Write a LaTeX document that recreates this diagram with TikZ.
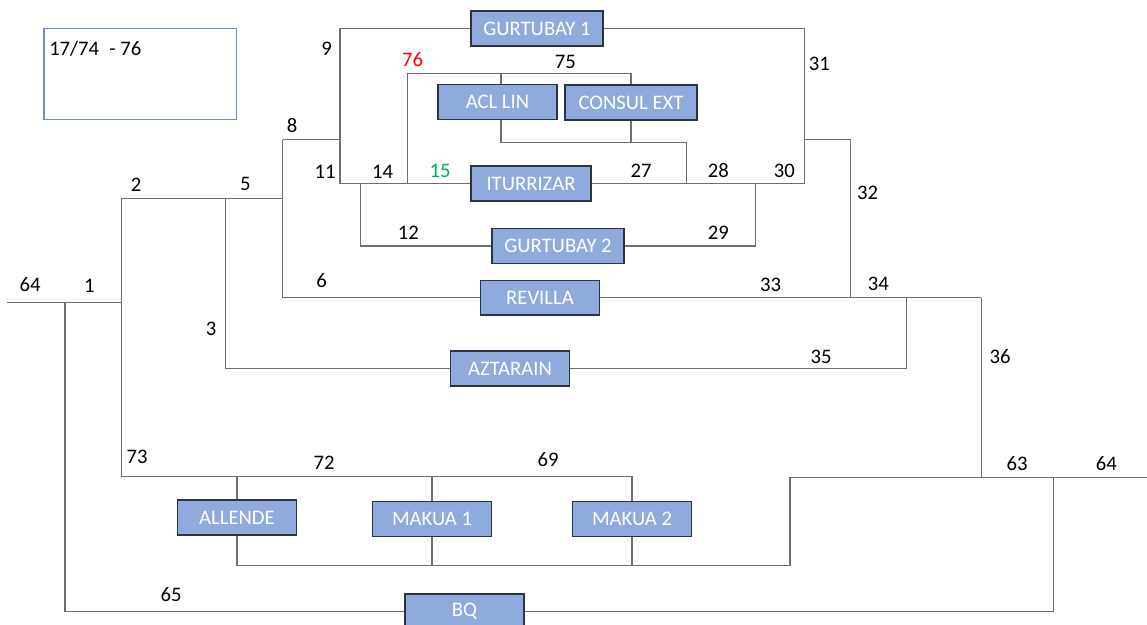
\documentclass[tikz,border=0pt]{standalone}
\usepackage{fontspec}
\setmainfont{Carlito}
\definecolor{boxfill}{HTML}{8FAADC}
\definecolor{boxedge}{HTML}{2B3340}
\definecolor{wiregray}{HTML}{6E6E6E}
\definecolor{legendblue}{HTML}{6F8DBF}
\definecolor{numred}{HTML}{FF0000}
\definecolor{numgreen}{HTML}{00B050}
\begin{document}
\begin{tikzpicture}[x=0.75pt,y=-0.75pt,
  unitbox/.style={draw=boxedge, fill=boxfill, line width=1.1pt, text=white,
    inner sep=0pt, minimum height=26pt, font=\fontsize{15.5}{18}\selectfont},
  wide/.style={minimum width=99pt},
  narrow/.style={minimum width=89pt},
  num/.style={inner sep=0pt, font=\fontsize{15.5}{18}\selectfont},
  wire/.style={draw=wiregray, line width=0.8pt}]
\clip (0,0) rectangle (1147,625);

% legend
\node[draw=legendblue, line width=0.8pt, fill=white, minimum width=144.5pt,
  minimum height=67.7pt, inner sep=0pt] (legend) at (140.3,73.9) {};
\node[num, anchor=base west] (legendtext) at (49,55) {17/74\hspace{0.5em}- 76};

% units
\node[unitbox, wide]   (g1)   at (537,28.5)  {GURTUBAY 1};
\node[unitbox, narrow] (acl)  at (497.5,102) {ACL LIN};
\node[unitbox, wide]   (cons) at (631,102.5) {CONSUL EXT};
\node[unitbox, minimum width=90pt] (itu) at (531,183.5) {ITURRIZAR};
\node[unitbox, wide]   (g2)   at (558,246)   {GURTUBAY 2};
\node[unitbox, narrow] (rev)  at (540,297.7) {REVILLA};
\node[unitbox, narrow] (azt)  at (510,368.5) {AZTARAIN};
\node[unitbox, narrow] (all)  at (237,517.5) {ALLENDE};
\node[unitbox, narrow] (mk1)  at (432,519)   {MAKUA 1};
\node[unitbox, narrow] (mk2)  at (632,519)   {MAKUA 2};
\node[unitbox, narrow] (bq)   at (464.5,611.5) {BQ};

% junction points
\coordinate (inL)  at (6.7,302.3);
\coordinate (j1)   at (121.7,302.3);
\coordinate (j65)  at (65,302.3);
\coordinate (j2)   at (121.7,198.7);
\coordinate (j5)   at (225.3,198.7);
\coordinate (j8)   at (282.7,198.7);
\coordinate (j8t)  at (282.7,139.7);
\coordinate (j9)   at (340,139.7);
\coordinate (j9t)  at (340,28.5);
\coordinate (j11)  at (340,183.5);
\coordinate (j14)  at (360.3,183.5);
\coordinate (j76)  at (407.7,183.5);
\coordinate (j76t) at (407.7,73.3);
\coordinate (j75)  at (501,73.3);
\coordinate (jb)   at (686.7,142.3);
\coordinate (j28)  at (686.7,183.5);
\coordinate (j29)  at (755.7,183.5);
\coordinate (j30)  at (804.3,183.5);
\coordinate (j31)  at (804.3,139.3);
\coordinate (j32)  at (850.3,297.7);
\coordinate (j34)  at (906.7,297.7);
\coordinate (j36)  at (981.3,297.7);
\coordinate (j63)  at (981.3,477.3);
\coordinate (jm)   at (790,477.3);
\coordinate (jmb)  at (790,565.7);
\coordinate (j64)  at (1053.2,477.3);
\coordinate (outR) at (1147,477.3);
\coordinate (j73)  at (121.7,476.3);

% feeder lines
\draw[wire] (inL) -- (j1);
\draw[wire] (j65) |- (bq.west);
\draw[wire] (j1) -- (j2) -- (j8);
\draw[wire] (j8t) -- (j8) |- (rev.west);
\draw[wire] (j8t) -- (j9);
\draw[wire] (j5) |- (azt.west);
\draw[wire] (j11) -- (j9t) -- (g1.west);
\draw[wire] (j11) -- (itu.west);
\draw[wire] (j14) |- (g2.west);
\draw[wire] (j76) -- (j76t) -| (cons.north);
\draw[wire] (j75) -- (j75 |- acl.north);
\draw[wire] (j75 |- acl.south) |- (jb) -- (j28);
\draw[wire] (cons.south) -- (cons.south |- jb);
\draw[wire] (itu.east) -- (j30) |- (g1.east);
\draw[wire] (j29) |- (g2.east);
\draw[wire] (j31) -| (j32);
\draw[wire] (rev.east) -- (j36);
\draw[wire] (j34) |- (azt.east);
\draw[wire] (j36) -- (j63);
\draw[wire] (jm) -- (outR);
\draw[wire] (j64) |- (bq.east);
\draw[wire] (jm) -- (jmb) -| (all.south);
\draw[wire] (mk1.south) -- (mk1.south |- jmb);
\draw[wire] (mk2.south) -- (mk2.south |- jmb);
\draw[wire] (j1) -- (j73) -| (mk2.north);
\draw[wire] (all.north) -- (all.north |- j73);
\draw[wire] (mk1.north) -- (mk1.north |- j73);

% line numbers
\node[num] (n64a) at (30,285)      {64};
\node[num] (n1)   at (89.3,285.7)  {1};
\node[num] (n2)   at (136,184.3)   {2};
\node[num] (n5)   at (245.3,184.3) {5};
\node[num] (n3)   at (211,329)     {3};
\node[num] (n6)   at (321.7,281)   {6};
\node[num] (n8)   at (292,125.3)   {8};
\node[num] (n9)   at (326.7,48.3)  {9};
\node[num] (n11)  at (325,171.7)   {11};
\node[num] (n14)  at (382.7,171.7) {14};
\node[num, text=numgreen] (n15) at (440,171) {15};
\node[num, text=numred] (n76)   at (412.7,60) {76};
\node[num] (n75)  at (565.3,61.7)  {75};
\node[num] (n12)  at (408.3,232.7) {12};
\node[num] (n27)  at (641,171)     {27};
\node[num] (n28)  at (718.3,171)   {28};
\node[num] (n29)  at (718.3,232.7) {29};
\node[num] (n30)  at (784.3,171)   {30};
\node[num] (n31)  at (819.3,64.3)  {31};
\node[num] (n32)  at (867.7,192.7) {32};
\node[num] (n33)  at (770.7,285)   {33};
\node[num] (n34)  at (878.3,284.3) {34};
\node[num] (n35)  at (821,356.7)   {35};
\node[num] (n36)  at (1000,356.7)  {36};
\node[num] (n73)  at (137,456.7)   {73};
\node[num] (n72)  at (324,462.3)   {72};
\node[num] (n69)  at (548,459.3)   {69};
\node[num] (n65)  at (171,595)     {65};
\node[num] (n63)  at (1017,463.3)  {63};
\node[num] (n64b) at (1106.4,463.3){64};
\end{tikzpicture}
\end{document}
